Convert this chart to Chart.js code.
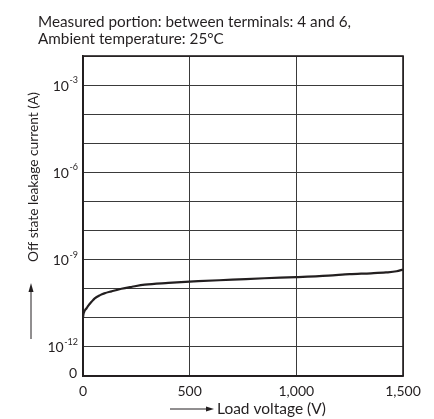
<!DOCTYPE html>
<html>
<head>
<meta charset="utf-8">
<script src="https://cdn.jsdelivr.net/npm/chart.js@4/dist/chart.umd.min.js"></script>
<style>
  html, body { margin: 0; padding: 0; background: #fff; }
  #wrap { width: 434px; height: 419px; position: relative; }
</style>
</head>
<body>
<div id="wrap"><canvas id="chart"></canvas></div>
<script>
// load voltage (V) and off state leakage current (A)
const voltage = [0, 2, 5, 10, 16, 25, 40, 55, 80, 100, 133, 180, 230, 290, 400, 540, 700, 850, 1000, 1150, 1250, 1350, 1420, 1470, 1500];
const leakage = [1.0e-11, 1.32e-11, 1.58e-11, 1.86e-11, 2.09e-11, 2.63e-11, 3.55e-11, 4.68e-11, 6.03e-11, 6.92e-11,
  8.13e-11, 1.0e-10, 1.17e-10, 1.38e-10, 1.58e-10, 1.82e-10, 2.04e-10, 2.29e-10, 2.51e-10, 2.82e-10,
  3.16e-10, 3.39e-10, 3.63e-10, 3.98e-10, 4.57e-10];

const xTicks = [0, 500, 1000, 1500];
const xTickLabels = ["0", "500", "1,000", "1,500"];
const yGrid = [1e-13, 1e-12, 1e-11, 1e-10, 1e-9, 1e-8, 1e-7, 1e-6, 1e-5, 1e-4, 1e-3, 1e-2];
const yLabelValues = [1e-3, 1e-6, 1e-9, 1e-12];
const yLabelExp = ["-3", "-6", "-9", "-12"];

const titleLines = ["Measured portion: between terminals: 4 and 6,", "Ambient temperature: 25°C"];
const xTitle = "Load voltage (V)";
const yTitle = "Off state leakage current (A)";

const FONT = "Lato, sans-serif";
const INK = "#231f20";

// pick a font size so the text takes the given width
function fitFont(ctx, text, width) {
  ctx.font = "20px " + FONT;
  const s = (20 * width) / ctx.measureText(text).width;
  ctx.font = s.toFixed(2) + "px " + FONT;
}

const textPlugin = {
  id: "textPlugin",
  afterDraw: (chart) => {
    const ctx = chart.ctx;
    const xs = chart.scales.x;
    const ys = chart.scales.y;
    ctx.save();
    ctx.fillStyle = INK;
    ctx.strokeStyle = INK;

    // title
    fitFont(ctx, titleLines[0], 313);
    ctx.textAlign = "left";
    ctx.textBaseline = "alphabetic";
    ctx.fillText(titleLines[0], 38, 27);
    ctx.fillText(titleLines[1], 38, 44);

    // x tick labels
    ctx.font = "14px " + FONT;
    ctx.textAlign = "center";
    ctx.textBaseline = "middle";
    xTicks.forEach((v, i) => {
      ctx.fillText(xTickLabels[i], xs.getPixelForValue(v), 391);
    });

    // y tick labels: 10 with superscript exponent
    yLabelValues.forEach((v, i) => {
      const y = ys.getPixelForValue(v);
      ctx.font = "9px " + FONT;
      const ew = ctx.measureText(yLabelExp[i]).width;
      ctx.textAlign = "left";
      ctx.textBaseline = "middle";
      const right = 78;
      ctx.fillText(yLabelExp[i], right - ew, y - 5);
      ctx.font = "14px " + FONT;
      ctx.textAlign = "right";
      ctx.fillText("10", right - ew - 0.5, y + 1);
    });
    ctx.font = "14px " + FONT;
    ctx.textAlign = "right";
    ctx.textBaseline = "middle";
    ctx.fillText("0", 77, ys.getPixelForValue(1e-13) - 3);

    // x axis title with arrow
    fitFont(ctx, xTitle, 109);
    ctx.textAlign = "left";
    ctx.textBaseline = "middle";
    ctx.fillText(xTitle, 217, 409);
    ctx.lineWidth = 1;
    ctx.beginPath();
    ctx.moveTo(170, 409);
    ctx.lineTo(208, 409);
    ctx.stroke();
    ctx.beginPath();
    ctx.moveTo(214, 409);
    ctx.lineTo(206, 406.5);
    ctx.lineTo(206, 411.5);
    ctx.closePath();
    ctx.fill();

    // y axis title with arrow
    fitFont(ctx, yTitle, 170);
    ctx.save();
    ctx.translate(34, 177);
    ctx.rotate(-Math.PI / 2);
    ctx.textAlign = "center";
    ctx.fillText(yTitle, 0, 0);
    ctx.restore();
    ctx.beginPath();
    ctx.moveTo(31, 339);
    ctx.lineTo(31, 290);
    ctx.stroke();
    ctx.beginPath();
    ctx.moveTo(31, 283);
    ctx.lineTo(28.5, 292);
    ctx.lineTo(33.5, 292);
    ctx.closePath();
    ctx.fill();

    ctx.restore();
  },
};

const ctx = document.getElementById("chart").getContext("2d");
new Chart(ctx, {
  type: "line",
  data: {
    datasets: [
      {
        label: "Leakage",
        data: voltage.map((v, i) => ({ x: v, y: leakage[i] })),
        borderColor: INK,
        borderWidth: 2.2,
        pointRadius: 0,
        cubicInterpolationMode: "monotone",
        fill: false,
      },
    ],
  },
  options: {
    responsive: true,
    maintainAspectRatio: false,
    animation: false,
    devicePixelRatio: 1,
    layout: { padding: { left: 83, right: 31, top: 56, bottom: 43 } },
    plugins: {
      legend: { display: false },
      title: { display: false },
      tooltip: { enabled: false },
    },
    scales: {
      x: {
        type: "linear",
        min: 0,
        max: 1500,
        afterBuildTicks: (scale) => {
          scale.ticks = xTicks.map((v) => ({ value: v }));
        },
        ticks: { display: false },
        grid: { color: "#3a3a3a", lineWidth: 1, drawTicks: false, tickLength: 0 },
        border: { display: true, color: INK, width: 1.6 },
      },
      y: {
        type: "logarithmic",
        min: 1e-13,
        max: 1e-2,
        afterBuildTicks: (scale) => {
          scale.ticks = yGrid.map((v) => ({ value: v }));
        },
        ticks: { display: false },
        grid: { color: "#3a3a3a", lineWidth: 1, drawTicks: false, tickLength: 0 },
        border: { display: true, color: INK, width: 1.6 },
      },
    },
  },
  plugins: [
    textPlugin,
    {
      id: "frame",
      afterDraw: (chart) => {
        const a = chart.chartArea;
        const c = chart.ctx;
        c.save();
        c.strokeStyle = INK;
        c.lineWidth = 1.6;
        c.strokeRect(a.left, a.top, a.right - a.left, a.bottom - a.top);
        c.restore();
      },
    },
  ],
});
</script>
</body>
</html>
